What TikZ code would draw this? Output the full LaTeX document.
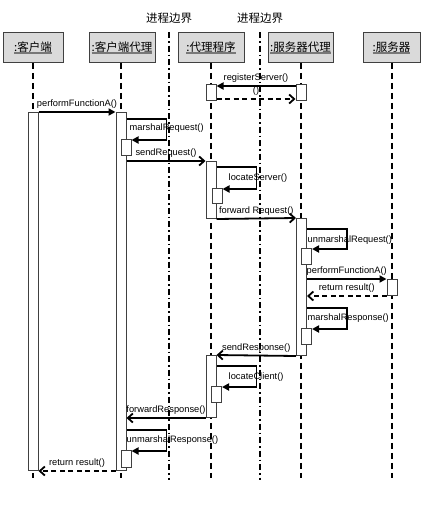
\documentclass[tikz,border=0pt]{standalone}
\usepackage{fontspec}
\setmainfont{Liberation Sans}
\newfontfamily\cjk{Noto Sans CJK SC}
\usepackage{tikz}
\usepackage{xcolor}
\usetikzlibrary{arrows.meta, positioning, calc}
\definecolor{cHead}{RGB}{218,218,218}
\definecolor{cEdge}{RGB}{64,64,64}
\definecolor{cRule}{RGB}{120,120,120}
\newcommand{\headlabel}[1]{\setbox0\hbox{\cjk #1}\rlap{\textcolor{cRule}{\rule[-2.5pt]{\wd0}{1.5pt}}}\box0}
\tikzset{
	head/.style   ={rectangle, draw=cEdge, line width=0.9pt, fill=cHead, minimum height=30pt, inner sep=2pt, font=\fontsize{11.5}{13}\selectfont},
	life/.style   ={line width=2pt, dash pattern=on 6pt off 4pt},
	border/.style ={line width=1.6pt, dash pattern=on 6pt off 3pt on 1.5pt off 3pt},
	act/.style    ={rectangle, draw=cEdge, line width=1pt, fill=white, minimum width=10pt, inner sep=0pt, anchor=north},
	% message styles
	call/.style   ={-{Triangle[length=7pt, width=7pt]}, line width=1.8pt},
	pass/.style   ={-{Straight Barb[length=5pt, width=9pt]}, line width=1.8pt},
	back/.style   ={pass, dash pattern=on 5pt off 3.5pt},
	msg/.style    ={font=\fontsize{9.3}{11}\selectfont, inner sep=1.5pt},
}

\begin{document}
\begin{tikzpicture}[x=1pt, y=-1pt]
	\useasboundingbox (0,0) rectangle (426,506);
	% process boundaries
	\node[font=\fontsize{11.5}{13}\selectfont\cjk] (pb1) at (169,18) {进程边界};
	\node[font=\fontsize{11.5}{13}\selectfont\cjk] (pb2) at (260,18) {进程边界};
	\draw[border] (pb1 |- 0,32) -- (pb1 |- 0,480);
	\draw[border] (pb2 |- 0,32) -- (pb2 |- 0,480);
	% header boxes
	\node[head, minimum width=60pt] (client) at (33,47.5)  {\headlabel{:客户端}};
	\node[head, minimum width=66pt] (cproxy) at (122,47.5) {\headlabel{:客户端代理}};
	\node[head, minimum width=66pt] (broker) at (211,47.5) {\headlabel{:代理程序}};
	\node[head, minimum width=65pt] (sproxy) at (300.5,47.5) {\headlabel{:服务器代理}};
	\node[head, minimum width=57pt] (server) at (391.5,47.5) {\headlabel{:服务器}};
	% lifelines
	\coordinate (bottom) at (0,478);
	\draw[life] (client.south) -- (client.south |- bottom);
	\draw[life] (cproxy.south -| 121,0) -- (121,478);
	\draw[life] (broker.south) -- (broker.south |- bottom);
	\draw[life] (sproxy.south -| 301,0) -- (301,478);
	\draw[life] (server.south -| 392,0) -- (392,478);
	% activations
	\node[act, minimum height=16pt]  (b1) at (211,84) {};
	\node[act, minimum height=16pt]  (sp1) at (301,84) {};
	\node[act, minimum height=358pt] (c1) at (33,112) {};
	\node[act, minimum height=358pt] (cp1) at (121,112) {};
	\node[act, minimum height=16pt]  (cp2) at (126,139) {};
	\node[act, minimum height=57pt]  (b2) at (211,161) {};
	\node[act, minimum height=15pt]  (b3) at (217,188) {};
	\node[act, minimum height=137pt] (sp2) at (301.5,218) {};
	\node[act, minimum height=16pt]  (sp3) at (306.5,248) {};
	\node[act, minimum height=16pt]  (s1) at (392,279) {};
	\node[act, minimum height=16pt]  (sp4) at (306.5,328) {};
	\node[act, minimum height=62pt]  (b4) at (211,355) {};
	\node[act, minimum height=16pt]  (b5) at (216.5,386) {};
	\node[act, minimum height=17pt]  (cp3) at (126,450) {};
	% register
	\draw[call] ([yshift=-2pt]sp1.north west) -- node[msg, above=1pt] (lreg) {registerServer()} ([yshift=-2pt]b1.north east);
	\draw[back] ([yshift=2pt]b1.south east) -- node[msg, above=1pt] (lret0) {()} ([yshift=2pt]sp1.south west);
	% request
	\draw[call] (c1.north east) -- node[msg, above=1pt] (lpf1) {performFunctionA()} (cp1.north west);
	\draw[call] (cp1.east |- 0,119) -- ++(40,0) |- ([yshift=-1pt]cp2.north east);
	\node[msg, anchor=west] (lmr) at (128,128) {marshalRequest()};
	\draw[pass] (cp1.east |- b2.north west) -- node[msg, above=1pt] (lsr) {sendRequest()} (b2.north west);
	\draw[call] ([yshift=-6pt]b2.north east) -- ++(40,0) |- ([yshift=-1pt]b3.north east);
	\node[msg, anchor=west] (lls) at (227,178) {locateServer()};
	\draw[pass] (b2.south east) -- node[msg, above=1pt] (lfr) {forward Request()} (sp2.north west);
	\draw[call] ([yshift=-11pt]sp2.north east) -- ++(40,0) |- ([yshift=-1pt]sp3.north east);
	\node[msg, anchor=west] (lur) at (306,240) {unmarshalRequest()};
	\draw[call] (sp2.east |- s1.north west) -- node[msg, above=1pt] (lpf2) {performFunctionA()} (s1.north west);
	\draw[back] (s1.south west) -- node[msg, above=1pt] (lret1) {return result()} (sp2.east |- s1.south west);
	% response
	\draw[call] (sp2.east |- 0,308) -- ++(40,0) |- ([yshift=-1pt]sp4.north east);
	\node[msg, anchor=west] (lmrs) at (306,318) {marshalResponse()};
	\draw[pass] (sp2.south west) -- node[msg, above=1pt] (lsrs) {sendResponse()} (b4.north east);
	\draw[call] ([yshift=-11pt]b4.north east) -- ++(40,0) |- ([yshift=-1pt]b5.north east);
	\node[msg, anchor=west] (llc) at (227,377) {locateClient()};
	\draw[pass] (b4.south west) -- node[msg, above=1pt] (lfrs) {forwardResponse()} (cp1.east |- b4.south west);
	\draw[call] (cp1.east |- 0,430) -- ++(40,0) |- ([yshift=-1pt]cp3.north east);
	\node[msg, anchor=west] (lurs) at (125,440) {unmarshalResponse()};
	\draw[back] (cp1.south west) -- node[msg, above=1pt] (lret2) {return result()} (c1.south east);
\end{tikzpicture}
\end{document}
